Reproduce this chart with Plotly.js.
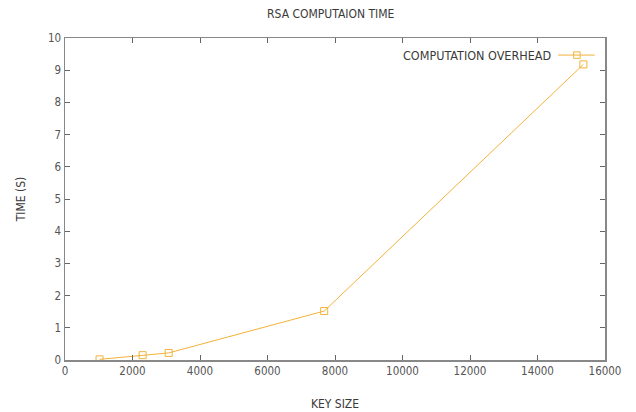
<!DOCTYPE html>
<html>
<head>
<meta charset="utf-8">
<script src="https://cdn.plot.ly/plotly-3.0.1.min.js"></script>
<style>html,body{margin:0;padding:0;background:#fff;}#chart{width:636px;height:412px;}</style>
</head>
<body>
<div id="chart"></div>
<script>
const keySizes = [1024, 2300, 3072, 7680, 15360];
const timeSec = [0.02, 0.15, 0.22, 1.52, 9.18];
const seriesName = "COMPUTATION OVERHEAD";
const xTicks = [0, 2000, 4000, 6000, 8000, 10000, 12000, 14000, 16000];
const yTicks = [0, 1, 2, 3, 4, 5, 6, 7, 8, 9, 10];

const lineColor = "#f2b23a";
const fontFam = "DejaVu Sans Condensed, DejaVu Sans, sans-serif";
const textColor = "#3a3a3a";

const trace = {
  x: keySizes, y: timeSec, name: seriesName,
  type: "scatter", mode: "lines+markers",
  line: {color: lineColor, width: 1},
  marker: {symbol: "square-open", size: 7, color: lineColor, line: {width: 1, color: lineColor}},
  showlegend: false
};

const layout = {
  width: 636, height: 412,
  margin: {l: 65, r: 31, t: 38, b: 52},
  paper_bgcolor: "#fff", plot_bgcolor: "#fff",
  font: {family: fontFam, size: 12, color: textColor},
  title: {text: "RSA COMPUTAION TIME", x: 0.52, xanchor: "center", y: 0.966, yanchor: "middle", font: {family: fontFam, size: 12, color: textColor}},
  xaxis: {
    range: [0, 16000], tickvals: xTicks, ticktext: xTicks.map(String),
    showgrid: false, zeroline: false, showline: true, linecolor: "#888", linewidth: 1.5, mirror: "ticks",
    ticks: "inside", ticklen: 5, tickcolor: "#666", tickfont: {size: 11.5, color: "#555"},
    title: {text: "KEY SIZE", standoff: 22, font: {size: 12, color: textColor}}
  },
  yaxis: {
    range: [0, 10], tickvals: yTicks, ticktext: yTicks.map(String),
    showgrid: false, zeroline: false, showline: true, linecolor: "#888", linewidth: 1.5, mirror: "ticks",
    ticks: "inside", ticklen: 5, tickcolor: "#666", tickfont: {size: 11.5, color: "#555"},
    title: {text: "TIME (S)", standoff: 20, font: {size: 12, color: textColor}}
  },
  annotations: [
    {xref: "paper", yref: "paper", x: 0.904, y: 0.945, xanchor: "right", yanchor: "middle",
     text: seriesName, showarrow: false, font: {size: 12.5, color: textColor}}
  ],
  shapes: [
    {type: "line", xref: "paper", yref: "paper", x0: 0.913, x1: 0.981, y0: 0.947, y1: 0.947, line: {color: lineColor, width: 1}},
    {type: "rect", xref: "paper", yref: "paper", x0: 0.942, x1: 0.954, y0: 0.937, y1: 0.957, line: {color: lineColor, width: 1}, fillcolor: "rgba(0,0,0,0)"}
  ]
};

Plotly.newPlot("chart", [trace], layout, {displayModeBar: false, staticPlot: true});
</script>
</body>
</html>
